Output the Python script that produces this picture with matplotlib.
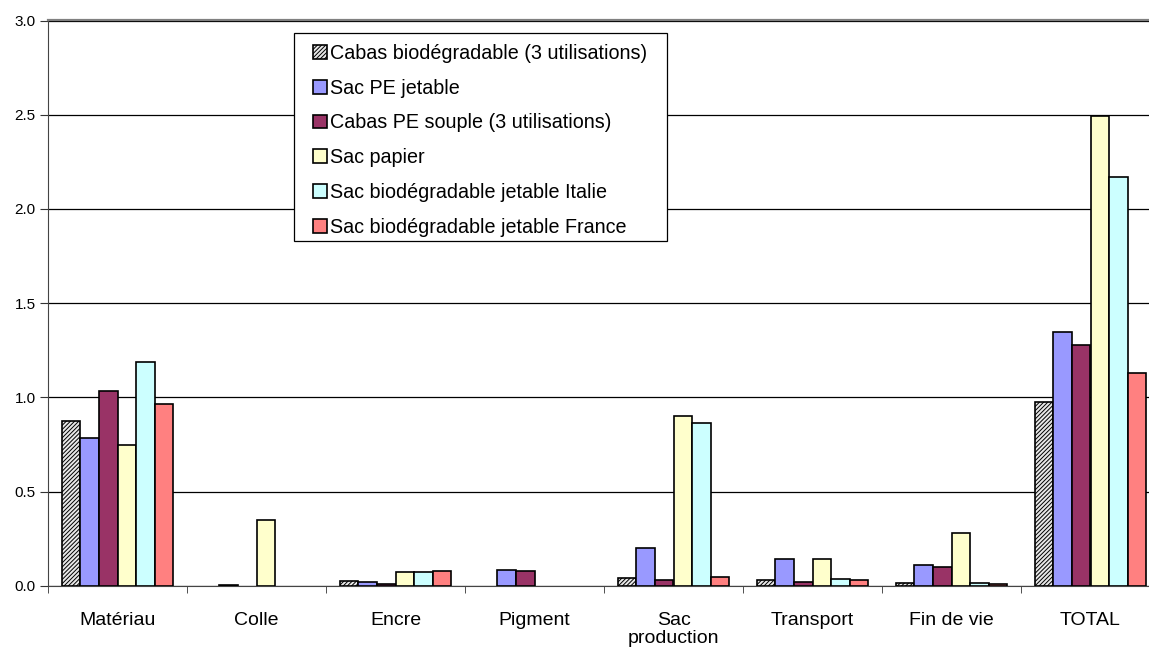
import numpy as np
import matplotlib
matplotlib.use("Agg")
import matplotlib.pyplot as plt
from matplotlib.patches import Rectangle
from matplotlib.ticker import FixedLocator, NullFormatter

plt.rcParams['font.family'] = ['Liberation Sans', 'DejaVu Sans']
plt.rcParams['hatch.linewidth'] = 0.7
plt.rcParams['hatch.color'] = '#333333'

categories = ['Matériau', 'Colle', 'Encre', 'Pigment', 'Sac\nproduction',
              'Transport', 'Fin de vie', 'TOTAL']

series_names = ['Cabas biodégradable (3 utilisations)',
                'Sac PE jetable',
                'Cabas PE souple (3 utilisations)',
                'Sac papier',
                'Sac biodégradable jetable Italie',
                'Sac biodégradable jetable France']

cabas_bio = [0.876, 0.0, 0.023, 0.0, 0.039, 0.029, 0.013, 0.975]
sac_pe = [0.786, 0.003, 0.022, 0.082, 0.202, 0.140, 0.111, 1.345]
cabas_pe = [1.032, 0.0, 0.009, 0.080, 0.032, 0.021, 0.101, 1.278]
sac_papier = [0.747, 0.349, 0.071, 0.0, 0.901, 0.140, 0.278, 2.493]
sac_bio_it = [1.186, 0.0, 0.071, 0.0, 0.862, 0.037, 0.016, 2.171]
sac_bio_fr = [0.963, 0.0, 0.078, 0.0, 0.046, 0.029, 0.011, 1.127]

all_series = [cabas_bio, sac_pe, cabas_pe, sac_papier, sac_bio_it, sac_bio_fr]
colors = ['#e8e8e8', '#9999ff', '#993366', '#ffffcc', '#ccffff', '#ff8080']
hatches = ['////////', None, None, None, None, None]

W, H = 1149, 648
fig = plt.figure(figsize=(W / 100, H / 100), dpi=100)
ax = fig.add_axes([48 / W, 62.3 / H, 1112 / W, 565.2 / H])

x = np.arange(len(categories))
w = 0.134
for i, vals in enumerate(all_series):
    vals = np.array(vals)
    keep = vals > 0   # empty cells are not drawn in the original
    ax.bar(x[keep] + (i - 2.5) * w, vals[keep], w, color=colors[i],
           edgecolor='#000000', hatch=hatches[i], linewidth=1.2,
           label=series_names[i], zorder=3)

ax.set_xlim(-0.5, 7.5)
ax.set_ylim(0, 3.0)
ticks = np.arange(0, 3.01, 0.5)
ax.set_yticks(ticks)
ax.set_yticklabels(['%.1f' % v for v in ticks], fontsize=11)
ax.yaxis.grid(True, color='#000000', linewidth=0.9, zorder=0)
ax.set_axisbelow(True)

ax.set_xticks(x)
ax.set_xticklabels(categories, fontsize=14)
for lab in ax.get_xticklabels():
    lab.set_linespacing(1.05)
ax.xaxis.set_minor_locator(FixedLocator(np.arange(-0.5, 8, 1)))
ax.xaxis.set_minor_formatter(NullFormatter())
ax.tick_params(axis='x', which='major', length=0, pad=19)
ax.tick_params(axis='x', which='minor', length=5, direction='out', color='#333333')
ax.tick_params(axis='y', length=6, direction='out', color='#333333', pad=3)

ax.spines['right'].set_visible(False)
ax.spines['top'].set_color('#808080')
ax.spines['top'].set_linewidth(1.6)
ax.spines['left'].set_color('#444444')
ax.spines['bottom'].set_color('#444444')

# legend box drawn separately so its padding can differ from matplotlib's
box = Rectangle((294 / W, 1 - 241 / H), 373 / W, 208 / H, transform=fig.transFigure,
                facecolor='white', edgecolor='black', linewidth=0.9, zorder=4,
                clip_on=False)
ax.add_patch(box)
leg = ax.legend(loc='upper left', bbox_to_anchor=(301 / W, 1 - 32 / H),
                bbox_transform=fig.transFigure, borderaxespad=0, fontsize=14.2,
                frameon=False, handlelength=0.7, handleheight=0.7,
                handletextpad=0.15, labelspacing=0.8, borderpad=0.6)
leg.set_zorder(5)

fig.savefig('out.png', dpi=100)
